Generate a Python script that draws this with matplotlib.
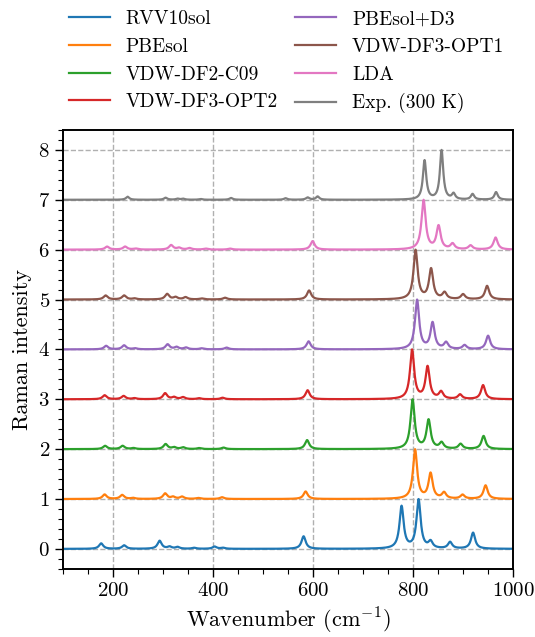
import numpy as np
import matplotlib
matplotlib.use('Agg')
import matplotlib.pyplot as plt


plt.rcParams['font.family'] = 'serif'
plt.rcParams['font.serif'] = ['cmr10', 'DejaVu Serif']
plt.rcParams['mathtext.fontset'] = 'cm'
plt.rcParams['axes.unicode_minus'] = False
plt.rcParams['axes.formatter.use_mathtext'] = True


# peak lists (position in cm-1, relative height)
labels = ['RVV10sol', 'PBEsol', 'VDW-DF2-C09', 'VDW-DF3-OPT2',
          'PBEsol+D3', 'VDW-DF3-OPT1', 'LDA', 'Exp. (300 K)']

pos_rvv10 = [176, 222, 293, 313, 329, 362, 403, 420, 581, 777, 811, 835, 874, 920]
amp_rvv10 = [0.11, 0.07, 0.16, 0.04, 0.035, 0.02, 0.045, 0.02, 0.25, 0.84, 0.97, 0.13, 0.13, 0.32]

pos_pbesol = [183, 218, 240, 304, 320, 338, 370, 418, 585, 804, 835, 862, 899, 945]
amp_pbesol = [0.09, 0.08, 0.02, 0.11, 0.04, 0.045, 0.02, 0.035, 0.15, 0.98, 0.50, 0.12, 0.08, 0.27]

pos_c09 = [184, 219, 241, 305, 322, 340, 372, 421, 588, 799, 831, 857, 895, 941]
amp_c09 = [0.065, 0.065, 0.02, 0.10, 0.035, 0.035, 0.02, 0.03, 0.18, 0.98, 0.57, 0.12, 0.10, 0.26]

pos_opt2 = [183, 221, 243, 304, 322, 340, 372, 419, 589, 798, 829, 856, 894, 940]
amp_opt2 = [0.08, 0.065, 0.02, 0.12, 0.04, 0.04, 0.02, 0.03, 0.18, 0.98, 0.64, 0.14, 0.09, 0.28]

pos_d3 = [186, 222, 244, 309, 327, 346, 377, 427, 591, 808, 839, 866, 903, 950]
amp_d3 = [0.07, 0.08, 0.02, 0.10, 0.045, 0.035, 0.02, 0.035, 0.16, 0.98, 0.52, 0.13, 0.08, 0.27]

pos_opt1 = [185, 222, 243, 308, 325, 345, 377, 424, 592, 805, 836, 863, 900, 948]
amp_opt1 = [0.08, 0.08, 0.02, 0.11, 0.045, 0.045, 0.02, 0.035, 0.18, 0.98, 0.60, 0.13, 0.10, 0.27]

pos_lda = [188, 224, 245, 316, 332, 353, 385, 434, 599, 821, 851, 879, 915, 965]
amp_lda = [0.06, 0.06, 0.02, 0.09, 0.035, 0.03, 0.02, 0.02, 0.17, 0.98, 0.46, 0.11, 0.08, 0.24]

pos_exp = [229, 305, 329, 340, 375, 436, 545, 589, 609, 823, 857, 881, 919, 966]
amp_exp = [0.06, 0.04, 0.02, 0.02, 0.015, 0.035, 0.03, 0.045, 0.065, 0.77, 0.97, 0.11, 0.11, 0.15]

peaks = [(pos_rvv10, amp_rvv10), (pos_pbesol, amp_pbesol), (pos_c09, amp_c09),
         (pos_opt2, amp_opt2), (pos_d3, amp_d3), (pos_opt1, amp_opt1),
         (pos_lda, amp_lda), (pos_exp, amp_exp)]
hwhm = [5, 5, 5, 5, 5, 5, 5, 4]


def spectrum(x, pos, amp, g):
    y = np.zeros_like(x)
    for p, a in zip(pos, amp):
        y += a / (1 + ((x - p) / g) ** 2)
    return y / y.max()


wavenumber = np.linspace(100, 1000, 1801)

fig = plt.figure(figsize=(5.35, 6.37), dpi=100)
ax = fig.add_axes([0.118, 0.107, 0.841, 0.689])

for i, (lab, (pos, amp)) in enumerate(zip(labels, peaks)):
    ax.plot(wavenumber, spectrum(wavenumber, pos, amp, hwhm[i]) + i,
            color=f'C{i}', lw=1.6, label=lab)

ax.set_xlim(100, 1000)
ax.set_ylim(-0.4, 8.4)
ax.xaxis.set_major_locator(plt.MultipleLocator(200))
ax.xaxis.set_minor_locator(plt.MultipleLocator(50))
ax.yaxis.set_major_locator(plt.MultipleLocator(1))
ax.yaxis.set_minor_locator(plt.MultipleLocator(0.2))
ax.tick_params(which='major', length=6, width=1, labelsize=15)
ax.tick_params(which='minor', length=3.5, width=0.8)
for s in ax.spines.values():
    s.set_linewidth(1.4)
ax.grid(which='major', linestyle='dashed', color='#b0b0b0', linewidth=1)

ax.set_xlabel(r'Wavenumber (cm$^{-1}$)', fontsize=16)
ax.set_ylabel('Raman intensity', fontsize=16)

ax.legend(loc='lower center', bbox_to_anchor=(0.497, 1.02), ncol=2, frameon=False,
          fontsize=14, handlelength=2.1, columnspacing=0.9, labelspacing=0.5,
          borderaxespad=0)

fig.savefig('out.png', dpi=100)
